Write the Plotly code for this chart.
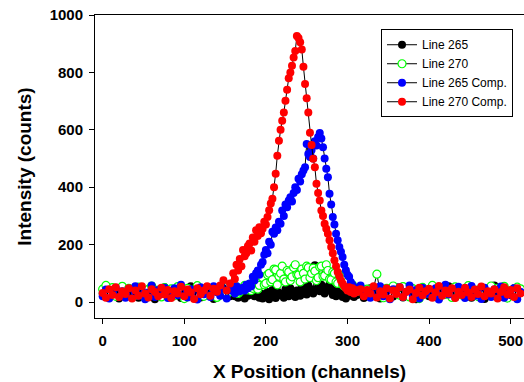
import plotly.graph_objects as go

# channel positions: every 4 channels on the flat parts, every 2 across the peak
channels = list(range(0, 160, 4)) + list(range(160, 312, 2)) + list(range(312, 513, 4))

line_265 = [
    # 0-156
    30, 18, 45, 25, 38, 12, 50, 28, 40, 20,
    35, 15, 48, 30, 22, 42, 10, 36, 26, 52,
    33, 19, 44, 27, 14, 40, 31, 55, 23, 37,
    16, 46, 29, 34, 11, 42, 24, 50, 32, 20,
    # 160-310 (step 2)
    36, 20, 42, 15, 30, 48, 25, 12, 38, 22,
    29, 48, 40, 20, 22, 35, 15, 30, 12, 26,
    18, 35, 10, 25, 42, 20, 14, 38, 24, 30,
    28, 15, 45, 32, 20, 48, 25, 36, 18, 40,
    36, 22, 52, 30, 40, 26, 58, 35, 45, 30,
    128, 42, 55, 38, 60, 45, 30, 52, 40, 62,
    38, 25, 52, 20, 30, 45, 25, 18, 40, 12,
    35, 22, 28, 45, 18, 40,
    # 312-512
    25, 40,
    14, 35, 48, 22, 30, 12, 44, 27, 38, 19,
    52, 31, 16, 42, 25, 36, 10, 46, 28, 33,
    20, 48, 35, 13, 40, 26, 55, 30, 18, 43,
    32, 22, 50, 15, 37, 28, 45, 11, 34, 24,
    58, 29, 40, 17, 36, 26, 48, 21, 33,
]

line_270 = [
    45, 58, 32, 50, 20, 40, 55, 28, 48, 36,
    24, 52, 38, 15, 44, 56, 30, 42, 18, 50,
    35, 46, 22, 54, 33, 12, 48, 40, 26, 57,
    38, 20, 50, 31, 45, 16, 42, 55, 28, 36,
    39, 50, 53, 30, 36, 48, 44, 58, 50, 42,
    62, 40, 48, 55, 70, 45, 58, 90, 85, 60,
    65, 95, 100, 70, 78, 115, 112, 60, 90, 100,
    125, 80, 70, 110, 105, 75, 88, 120, 130, 95,
    95, 70, 115, 100, 80, 125, 120, 85, 100, 118,
    108, 75, 85, 122, 125, 90, 92, 130, 110, 80,
    78, 105, 100, 70, 65, 95, 88, 60, 55, 80,
    70, 45, 45, 60, 50, 38,
    38, 52,
    30, 45, 20, 50, 97, 36, 15, 48, 28, 56,
    42, 24, 54, 33, 18, 47, 38, 12, 51, 29,
    44, 58, 22, 36, 49, 27, 40, 16, 53, 35,
    25, 46, 57, 30, 42, 19, 50, 34, 45, 56,
    28, 48, 37, 55, 14, 40, 32, 52, 46,
]

line_265_comp = [
    20, 44, 12, 35, 50, 26, 38, 15, 46, 30,
    55, 22, 40, 10, 33, 58, 18, 42, 28, 50,
    14, 36, 48, 24, 60, 30, 16, 45, 38, 9,
    52, 27, 40, 18, 55, 34, 22, 47, 12, 40,
    42, 30, 55, 48, 38, 45, 50, 40, 60, 48,
    65, 55, 88, 75, 100, 110, 95, 130, 140, 165,
    181, 170, 210, 200, 245, 238, 260, 250, 280, 273,
    319, 300, 340, 330, 354, 365, 350, 380, 400, 390,
    430, 420, 445, 458, 470, 551, 516, 505, 530, 500,
    560, 545, 575, 589, 570, 539, 500, 464, 435, 377,
    340, 296, 270, 238, 215, 192, 175, 157, 130, 111,
    95, 88, 70, 60, 52, 45,
    45, 58,
    25, 40, 15, 48, 33, 55, 20, 38, 10, 45,
    30, 52, 18, 36, 58, 24, 42, 12, 50, 28,
    35, 20, 48, 9, 38, 60, 26, 44, 16, 53,
    32, 14, 46, 56, 22, 40, 11, 50, 30, 18,
    44, 28, 54, 15, 38, 24, 48, 10, 36,
]

line_270_comp = [
    32, 15, 45, 25, 52, 18, 38, 28, 48, 12,
    40, 22, 55, 30, 16, 45, 35, 20, 50, 26,
    42, 14, 38, 30, 53, 20, 44, 33, 11, 48,
    27, 40, 55, 22, 46, 36, 58, 76, 40, 65,
    100, 80, 130, 110, 150, 125, 181, 160, 170, 195,
    204, 180, 225, 210, 250, 230, 261, 240, 255, 280,
    270, 296, 320, 343, 360, 400, 447, 510, 562, 600,
    632, 660, 701, 740, 780, 800, 823, 852, 875, 927,
    920, 905, 880, 820, 760, 710, 660, 590, 547, 499,
    470, 412, 380, 354, 319, 300, 273, 255, 238, 215,
    192, 170, 146, 125, 105, 90, 75, 65, 55, 48,
    40, 52, 35, 48, 30, 42,
    35, 45,
    20, 42, 30, 55, 16, 38, 26, 48, 12, 40,
    28, 52, 18, 36, 44, 10, 32, 50, 24, 38,
    46, 15, 34, 56, 22, 40, 30, 48, 14, 36,
    25, 50, 33, 18, 44, 28, 54, 20, 38, 30,
    45, 12, 35, 52, 26, 42, 18, 48, 30,
]

series_names = ["Line 265", "Line 270", "Line 265 Comp.", "Line 270 Comp."]
series_values = [line_265, line_270, line_265_comp, line_270_comp]
fill_colors = ["#000000", "#FFFFFF", "#0000FF", "#FF0000"]
edge_colors = ["#000000", "#00FF00", "#0000FF", "#FF0000"]
edge_widths = [0, 1.2, 0, 0]

x_ticks = [0, 100, 200, 300, 400, 500]
y_ticks = [0, 200, 400, 600, 800, 1000]

FONT = "Liberation Sans, Arial, sans-serif"

for vals in series_values:
    assert len(vals) == len(channels), (len(vals), len(channels))

fig = go.Figure()
for name, vals, fc, ec, ew in zip(series_names, series_values, fill_colors, edge_colors, edge_widths):
    fig.add_trace(go.Scatter(
        x=channels, y=vals, name=name, mode="lines+markers",
        line=dict(color="#000000", width=1),
        marker=dict(symbol="circle", size=8, color=fc, line=dict(color=ec, width=ew)),
    ))

fig.update_layout(
    width=524, height=382,
    margin=dict(l=95, r=0, t=15, b=64),
    paper_bgcolor="white", plot_bgcolor="white",
    font=dict(family=FONT, color="black"),
    showlegend=True,
    legend=dict(
        x=0.6667, y=0.953, xanchor="left", yanchor="top",
        bgcolor="white", bordercolor="black", borderwidth=1,
        font=dict(family=FONT, size=12, color="black"),
        tracegroupgap=0,
    ),
    xaxis=dict(
        range=[-9.4, 516.3], tickvals=x_ticks, ticks="outside", ticklen=5,
        tickwidth=1, tickcolor="black", showline=True, linecolor="black",
        linewidth=1, mirror=True, showgrid=False, zeroline=False,
        ticklabelstandoff=4,
        tickfont=dict(family=FONT, size=15, color="black", weight="bold"),
        title=dict(text="<b>X Position (channels)</b>", font=dict(family=FONT, size=19), standoff=16),
    ),
    yaxis=dict(
        range=[-55.5, 1000], tickvals=y_ticks, ticks="outside", ticklen=5,
        tickwidth=1, tickcolor="black", showline=True, linecolor="black",
        linewidth=1, showgrid=False, zeroline=False,
        ticklabelstandoff=3,
        tickfont=dict(family=FONT, size=15, color="black", weight="bold"),
        title=dict(text="<b>Intensity (counts)</b>", font=dict(family=FONT, size=19), standoff=12),
    ),
)

fig.write_html("out.html")
